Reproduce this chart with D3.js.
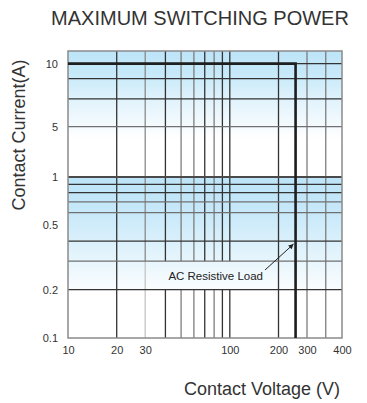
<!DOCTYPE html>
<html>
<head>
<meta charset="utf-8">
<script src="https://cdn.jsdelivr.net/npm/d3@7"></script>
<style>
  body { margin: 0; background: #fff; }
  text { font-family: "Liberation Sans", Arial, sans-serif; fill: #333; }
</style>
</head>
<body>
<svg id="chart" width="367" height="403"></svg>
<script>
// tick labels
const xTickValues = [10, 20, 30, 100, 200, 300, 400];
const yTickValues = [10, 5, 1, 0.5, 0.2, 0.1];

// grid lines (voltage / current values)
const xGridDark = [20, 40, 70, 90, 100, 200];
const xGridGray = [50, 60, 80, 300, 350];
const xGridFaint = [30];
const yGridDark = [10, 8.8, 7.2, 0.9, 0.8, 0.4, 0.2];
const yGridGray = [5, 0.7, 0.6, 0.3];
const yGridHeavy = [1];

// max switching power curve (V, A)
const loadCurve = [
  {v: 10, a: 10},
  {v: 255, a: 10},
  {v: 255, a: 0.1}
];

const svg = d3.select("#chart");
const width = +svg.attr("width");
const height = +svg.attr("height");
const margin = {top: 51, right: 25, bottom: 65, left: 68};

// log axis, last segment (300-400) stretched like the original sheet
const x = d3.scaleLog()
  .domain([10, 300, 400])
  .range([margin.left, margin.left + 239, width - margin.right]);

// lower decade is log, upper part 1..11 A is linear
const yBot = d3.scaleLog()
  .domain([0.1, 1])
  .range([height - margin.bottom, 177]);
const yTop = d3.scaleLinear()
  .domain([1, 11])
  .range([177, margin.top]);
const y = v => v >= 1 ? yTop(v) : yBot(v);

const x0 = margin.left, x1 = width - margin.right;
const y0 = margin.top, y1 = height - margin.bottom;

// gradients
const defs = svg.append("defs");
const topGrad = defs.append("linearGradient")
  .attr("id", "topGrad")
  .attr("gradientUnits", "userSpaceOnUse")
  .attr("x1", 0).attr("x2", 0)
  .attr("y1", y(11)).attr("y2", y(4));
[[0, "#bde4f8"], [0.25, "#c6e9f9"], [0.6, "#e4f4fc"], [1, "#ffffff"]].forEach(s =>
  topGrad.append("stop").attr("offset", s[0]).attr("stop-color", s[1]));

const lowGrad = defs.append("linearGradient")
  .attr("id", "lowGrad")
  .attr("gradientUnits", "userSpaceOnUse")
  .attr("x1", 0).attr("x2", 0)
  .attr("y1", y(1)).attr("y2", y(0.2));
[[0, "#bde4f8"], [0.3, "#c6e8f9"], [0.7, "#e4f4fc"], [1, "#fafdff"]].forEach(s =>
  lowGrad.append("stop").attr("offset", s[0]).attr("stop-color", s[1]));

// background bands
svg.append("rect")
  .attr("x", x0).attr("y", y(11))
  .attr("width", x1 - x0).attr("height", y(4) - y(11))
  .attr("fill", "url(#topGrad)");
svg.append("rect")
  .attr("x", x0).attr("y", y(1))
  .attr("width", x1 - x0).attr("height", y(0.2) - y(1))
  .attr("fill", "url(#lowGrad)");

// vertical grid
const vgrid = svg.append("g");
vgrid.selectAll(".vd")
  .data(xGridDark)
  .join("line")
  .attr("x1", d => x(d)).attr("x2", d => x(d))
  .attr("y1", y0).attr("y2", y1)
  .attr("stroke", "#333").attr("stroke-width", 1.3);
vgrid.selectAll(".vg")
  .data(xGridGray)
  .join("line")
  .attr("x1", d => x(d)).attr("x2", d => x(d))
  .attr("y1", y0).attr("y2", y1)
  .attr("stroke", "#7d7d7d").attr("stroke-width", 1.3);
// the 30 V line turns pale below 0.3 A
xGridFaint.forEach(v => {
  vgrid.append("line")
    .attr("x1", x(v)).attr("x2", x(v))
    .attr("y1", y0).attr("y2", y(0.3))
    .attr("stroke", "#8a8a8a").attr("stroke-width", 1.3);
  vgrid.append("line")
    .attr("x1", x(v)).attr("x2", x(v))
    .attr("y1", y(0.3)).attr("y2", y1)
    .attr("stroke", "#c4c4c4").attr("stroke-width", 1.3);
});

// annotation label (with a clear box behind it)
const label = svg.append("text")
  .attr("x", 263)
  .attr("y", 279.5)
  .attr("text-anchor", "end")
  .style("font-size", "11.5px")
  .style("fill", "#222")
  .text("AC Resistive Load");
const bb = label.node().getBBox();
svg.insert("rect", "text")
  .attr("x", bb.x - 14)
  .attr("y", y(0.3))
  .attr("width", bb.width + 22)
  .attr("height", y(0.2) - y(0.3))
  .attr("fill", "url(#lowGrad)");

// horizontal grid
const hgrid = svg.append("g");
hgrid.selectAll(".hd")
  .data(yGridDark)
  .join("line")
  .attr("x1", x0).attr("x2", x1)
  .attr("y1", d => y(d)).attr("y2", d => y(d))
  .attr("stroke", "#333").attr("stroke-width", 1.3);
hgrid.selectAll(".hg")
  .data(yGridGray)
  .join("line")
  .attr("x1", x0).attr("x2", x1)
  .attr("y1", d => y(d)).attr("y2", d => y(d))
  .attr("stroke", "#707070").attr("stroke-width", 1.3);
hgrid.selectAll(".hh")
  .data(yGridHeavy)
  .join("line")
  .attr("x1", x0).attr("x2", x1)
  .attr("y1", d => y(d)).attr("y2", d => y(d))
  .attr("stroke", "#4a4a4a").attr("stroke-width", 2);

// frame
svg.append("rect")
  .attr("x", x0).attr("y", y0)
  .attr("width", x1 - x0).attr("height", y1 - y0)
  .attr("fill", "none")
  .attr("stroke", "#8a8a8a")
  .attr("stroke-width", 1.5);

// switching power curve
svg.append("path")
  .datum(loadCurve)
  .attr("fill", "none")
  .attr("stroke", "#1e1e1e")
  .attr("stroke-width", 2.6)
  .attr("d", d3.line().x(d => x(d.v)).y(d => y(d.a)));

// arrow to the curve
defs.append("marker")
  .attr("id", "arrow")
  .attr("viewBox", "0 0 10 10")
  .attr("refX", 10).attr("refY", 5)
  .attr("markerWidth", 7).attr("markerHeight", 5)
  .attr("markerUnits", "userSpaceOnUse")
  .attr("orient", "auto")
  .append("path")
  .attr("d", "M0,0L10,5L0,10Z")
  .attr("fill", "#222");
svg.append("line")
  .attr("x1", 265).attr("y1", 270)
  .attr("x2", x(loadCurve[1].v) - 2).attr("y2", 244)
  .attr("stroke", "#222")
  .attr("stroke-width", 1)
  .attr("marker-end", "url(#arrow)");

// axes
const xAxis = svg.append("g")
  .attr("transform", `translate(0, ${y1})`)
  .call(d3.axisBottom(x).tickValues(xTickValues).tickFormat(d3.format("~g"))
    .tickSize(0).tickPadding(8));
xAxis.select(".domain").remove();
xAxis.selectAll("text").style("font-size", "11px").style("fill", "#333");

const yAxisTop = svg.append("g")
  .attr("transform", `translate(${x0}, 0)`)
  .call(d3.axisLeft(yTop).tickValues(yTickValues.filter(d => d >= 1))
    .tickFormat(d3.format("~g")).tickSize(0).tickPadding(10));
const yAxisBot = svg.append("g")
  .attr("transform", `translate(${x0}, 0)`)
  .call(d3.axisLeft(yBot).tickValues(yTickValues.filter(d => d < 1))
    .tickFormat(d3.format("~g")).tickSize(0).tickPadding(10));
[yAxisTop, yAxisBot].forEach(g => {
  g.select(".domain").remove();
  g.selectAll("text").style("font-size", "11px").style("fill", "#333");
});

// titles
svg.append("text")
  .attr("x", 200)
  .attr("y", 25)
  .attr("text-anchor", "middle")
  .style("font-size", "20px")
  .text("MAXIMUM SWITCHING POWER");

svg.append("text")
  .attr("x", 262)
  .attr("y", 395)
  .attr("text-anchor", "middle")
  .style("font-size", "18px")
  .text("Contact Voltage (V)");

svg.append("text")
  .attr("transform", "rotate(-90)")
  .attr("x", -135)
  .attr("y", 25)
  .attr("text-anchor", "middle")
  .style("font-size", "18px")
  .text("Contact Current(A)");
</script>
</body>
</html>
